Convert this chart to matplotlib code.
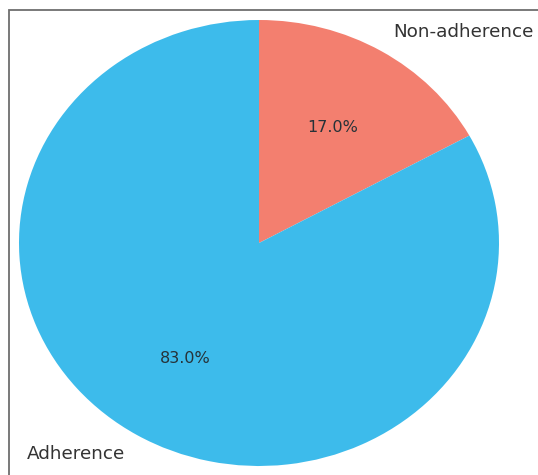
import matplotlib
matplotlib.use("Agg")
import matplotlib.pyplot as plt
from matplotlib.patches import Rectangle

labels = ["Non-adherence", "Adherence"]
shares = [17.0, 83.0]
colors = ["#f37f6f", "#3dbbeb"]

fig = plt.figure(figsize=(5.38, 4.75), dpi=100)
W, H = 538, 475
# pie centre (259, 243) px, radii 240 x 223 px; pie uses limits of +-1.25
cx, cy, rx, ry = 259, 243, 240, 223
ax = fig.add_axes([(cx - 1.25 * rx) / W, (H - cy - 1.25 * ry) / H,
                   2.5 * rx / W, 2.5 * ry / H])

wedges, texts, autotexts = ax.pie(shares, labels=labels, colors=colors,
                                  autopct="%1.1f%%", startangle=90,
                                  counterclock=False,
                                  textprops={"color": "#333333"})
ax.set_aspect("auto")
ax.set_xlim(-1.25, 1.25)
ax.set_ylim(-1.25, 1.25)
for t in texts:
    t.set_fontsize(13.2)
for t in autotexts:
    t.set_fontsize(11.5)
    t.set_color("#263238")

# frame around the plot (right and bottom edges fall outside the crop)
fig.patches.append(Rectangle((8.5 / W, -0.05), 1.2, 1 - 9.5 / H + 0.05,
                             transform=fig.transFigure, fill=False,
                             edgecolor="#6e6e6e", linewidth=1.3))

fig.savefig("out.png", dpi=100)
